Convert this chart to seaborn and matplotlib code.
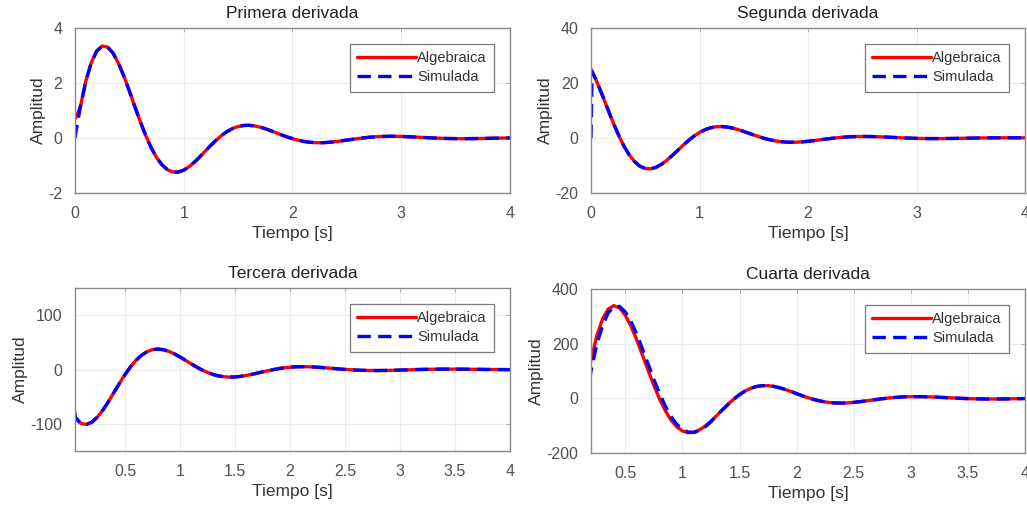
import matplotlib
matplotlib.use("Agg")
import matplotlib.pyplot as plt
import seaborn as sns

# tiempo [s]
tiempo = [0.0, 0.01, 0.05, 0.1, 0.15, 0.2, 0.25, 0.3, 0.35, 0.4, 0.45, 0.5,
          0.55, 0.6, 0.65, 0.7, 0.75, 0.8, 0.85, 0.9, 0.95, 1.0, 1.05, 1.1,
          1.15, 1.2, 1.25, 1.3, 1.35, 1.4, 1.45, 1.5, 1.55, 1.6, 1.65, 1.7,
          1.75, 1.8, 1.85, 1.9, 1.95, 2.0, 2.05, 2.1, 2.15, 2.2, 2.25, 2.3,
          2.35, 2.4, 2.45, 2.5, 2.6, 2.7, 2.8, 2.9, 3.0, 3.1, 3.2, 3.3, 3.4,
          3.5, 3.6, 3.7, 3.8, 3.9, 4.0]

# Primera derivada
sim1 = [0.0, 0.246, 1.146, 2.067, 2.740, 3.163, 3.344, 3.307, 3.086, 2.718,
        2.245, 1.710, 1.148, 0.602, 0.094, -0.347, -0.707, -0.975, -1.152,
        -1.235, -1.237, -1.168, -1.041, -0.871, -0.676, -0.468, -0.263,
        -0.071, 0.098, 0.239, 0.345, 0.417, 0.455, 0.462, 0.441, 0.398,
        0.337, 0.266, 0.190, 0.113, 0.040, -0.025, -0.079, -0.122, -0.151,
        -0.167, -0.172, -0.166, -0.151, -0.130, -0.104, -0.076, -0.020,
        0.026, 0.054, 0.064, 0.058, 0.041, 0.020, 0.0, -0.015, -0.022,
        -0.023, -0.019, -0.012, -0.004, 0.002]
alg1 = [0.70, 0.75] + sim1[2:]

# Segunda derivada
alg2 = [24.94, 24.17, 20.77, 15.98, 10.92, 5.98, 1.35, -2.69, -6.04, -8.53,
        -10.23, -11.09, -11.19, -10.63, -9.54, -8.05, -6.31, -4.44, -2.58,
        -0.83, 0.72, 2.02, 3.02, 3.70, 4.08, 4.17, 4.01, 3.64, 3.11, 2.48,
        1.79, 1.10, 0.435, -0.160, -0.663, -1.055, -1.334, -1.497, -1.552,
        -1.507, -1.386, -1.199, -0.970, -0.719, -0.458, -0.209, 0.018, 0.211,
        0.366, 0.478, 0.546, 0.575, 0.525, 0.378, 0.190, 0.009, -0.126,
        -0.200, -0.212, -0.177, -0.112, -0.042, 0.019, 0.061, 0.079, 0.075,
        0.057]
sim2 = [0.0] + alg2[1:]

# Tercera derivada
alg3 = [-74.8, -78.6, -90.8, -99.4, -101.1, -96.7, -87.3, -74.3, -58.8,
        -42.0, -25.2, -9.30, 4.96, 16.93, 26.23, 32.77, 36.52, 37.62, 36.40,
        33.27, 28.66, 23.04, 16.88, 10.60, 4.59, -0.85, -5.48, -9.15, -11.78,
        -13.37, -13.97, -13.68, -12.65, -11.02, -9.00, -6.74, -4.40, -2.14,
        -0.07, 1.72, 3.16, 4.22, 4.88, 5.18, 5.13, 4.80, 4.23, 3.50, 2.68,
        1.83, 0.96, 0.17, -1.08, -1.77, -1.92, -1.62, -1.06, -0.42, 0.14,
        0.53, 0.70, 0.69, 0.53, 0.30, 0.07, -0.12, -0.23]
sim3 = [0.0, -40.0, -88.0] + alg3[3:]

# Cuarta derivada
alg4 = [-396.8, -366.3, -244.7, -99.8, 30.7, 141.2, 228.3, 290.0, 326.7,
        339.2, 330.5, 304.0, 263.8, 214.1, 158.8, 102.2, 47.6, -2.2, -44.9,
        -79.0, -104.0, -119.3, -125.7, -124.0, -115.4, -101.3, -83.5, -63.2,
        -42.1, -21.6, -2.7, 13.8, 27.1, 37.1, 43.5, 46.5, 46.4, 43.7, 38.9,
        32.4, 25.0, 17.2, 9.5, 2.3, -4.0, -9.2, -13.1, -15.8, -17.1, -17.3,
        -16.5, -14.8, -9.8, -4.1, 1.0, 4.6, 6.3, 6.2, 4.9, 2.8, 0.7, -1.0,
        -2.1, -2.4, -2.2, -1.5, -0.7]
sim4 = [0.0, -380.0, -300.0, -160.0, -18.0, 100.0, 197.0, 265.0, 313.0,
        335.0, 336.5, 316.0, 281.0, 235.0, 181.0, 125.0, 69.0, 18.0, -28.0,
        -66.0, -95.0, -113.5, -123.5, -124.5, -117.5, -104.5, -85.5] + alg4[27:]

titulos = ["Primera derivada", "Segunda derivada", "Tercera derivada", "Cuarta derivada"]
algebraica = [alg1, alg2, alg3, alg4]
simulada = [sim1, sim2, sim3, sim4]
xlims = [(0, 4), (0, 4), (0.045, 4), (0.2, 4)]
ylims = [(-2, 4), (-20, 40), (-150, 150), (-200, 400)]
xticks_sets = [[0, 1, 2, 3, 4], [0, 1, 2, 3, 4],
               [0.5, 1, 1.5, 2, 2.5, 3, 3.5, 4], [0.5, 1, 1.5, 2, 2.5, 3, 3.5, 4]]
yticks_sets = [[-2, 0, 2, 4], [-20, 0, 20, 40], [-100, 0, 100], [-200, 0, 200, 400]]
posiciones = [[0.0730, 0.6230, 0.4236, 0.3223],
              [0.5755, 0.6230, 0.4226, 0.3223],
              [0.0730, 0.1191, 0.4236, 0.3184],
              [0.5755, 0.1152, 0.4226, 0.3203]]

sns.set_style("white")
plt.rcParams['font.family'] = ['Liberation Sans', 'DejaVu Sans']
plt.rcParams['axes.unicode_minus'] = False

fig = plt.figure(figsize=(10.27, 5.12), dpi=100)

for i in range(4):
    ax = fig.add_axes(posiciones[i])
    sns.lineplot(x=tiempo, y=algebraica[i], ax=ax, color='#ff0000', lw=2.4,
                 label='Algebraica')
    sns.lineplot(x=tiempo, y=simulada[i], ax=ax, color='#0000ff', lw=2.4,
                 ls=(0, (4.0, 2.2)), label='Simulada')
    ax.set_xlim(xlims[i])
    ax.set_ylim(ylims[i])
    ax.set_xticks(xticks_sets[i])
    ax.set_xticklabels([f"{v:g}" for v in xticks_sets[i]])
    ax.set_yticks(yticks_sets[i])
    ax.grid(True, color='#ebebeb', lw=0.8)
    for s in ax.spines.values():
        s.set_color('#8a8a8a')
        s.set_linewidth(1.0)
    ax.tick_params(direction='in', length=3, width=0.7, color='#b0b0b0',
                   labelcolor='#505050', labelsize=11.5, pad=9,
                   top=True, right=True)
    ax.set_title(titulos[i], fontsize=12.5, color='#222222', pad=7)
    ax.set_xlabel('Tiempo [s]', fontsize=12.5, color='#333333', labelpad=4)
    ax.set_ylabel('Amplitud', fontsize=12.5, color='#333333', labelpad=2)
    leg = ax.legend(loc='upper right', fontsize=10.5, handlelength=4.0,
                    handletextpad=0.1, borderaxespad=1.1, fancybox=False,
                    framealpha=1, edgecolor='#7a7a7a', borderpad=0.5,
                    labelspacing=0.35)
    leg.get_frame().set_linewidth(0.9)
    for txt in leg.get_texts():
        txt.set_color('#333333')

fig.savefig('out.png', dpi=100)
